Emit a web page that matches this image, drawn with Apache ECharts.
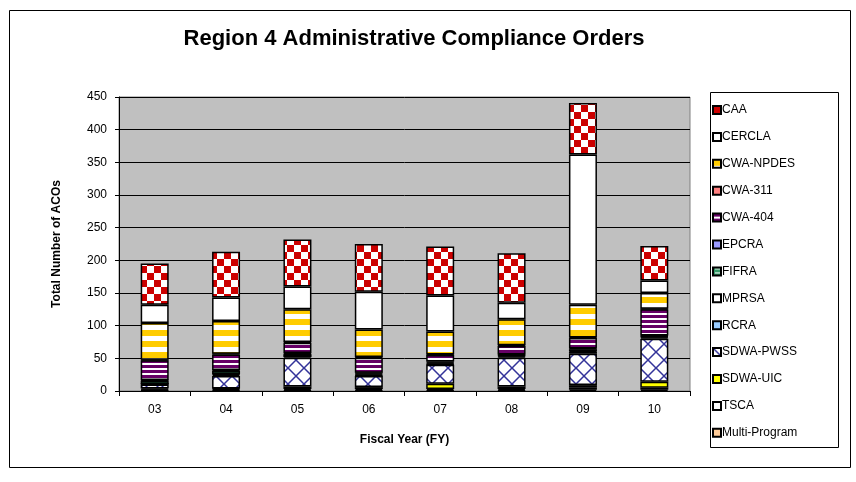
<!DOCTYPE html>
<html>
<head>
<meta charset="utf-8">
<script src="https://cdn.jsdelivr.net/npm/echarts@6/dist/echarts.min.js"></script>
<style>
  html, body { margin: 0; padding: 0; background: #fff; }
  #main { width: 856px; height: 482px; }
</style>
</head>
<body>
<div id="main"></div>
<script>
// fiscal years
const years = ['03', '04', '05', '06', '07', '08', '09', '10'];

// values per program (bottom of stack first)
const multiProgram = [1, 1, 1, 1, 1, 1, 2, 2];
const tsca         = [1, 2, 2, 2, 2, 2, 3, 3];
const sdwaUic      = [2, 1, 4, 3, 8, 4, 4, 9];
const sdwaPwss     = [6, 19, 44, 17, 29, 44, 48, 66];
const rcra         = [1, 2, 2, 1, 1, 2, 3, 2];
const mprsa        = [0, 1, 0, 1, 1, 1, 1, 1];
const fifra        = [5, 5, 4, 2, 2, 1, 3, 1];
const epcra        = [1, 1, 1, 1, 1, 1, 1, 1];
const cwa404       = [30, 24, 16, 23, 10, 13, 16, 40];
const cwa311       = [1, 1, 1, 1, 1, 1, 1, 1];
const cwaNpdes     = [56, 50, 50, 42, 35, 40, 50, 24];
const cercla       = [28, 36, 35, 58, 55, 25, 230, 19];
const caa          = [63, 70, 72, 73, 75, 76, 79, 53];

const legendOrder = ['CAA', 'CERCLA', 'CWA-NPDES', 'CWA-311', 'CWA-404', 'EPCRA', 'FIFRA',
    'MPRSA', 'RCRA', 'SDWA-PWSS', 'SDWA-UIC', 'TSCA', 'Multi-Program'];

function pat(w, h, draw) {
    const c = document.createElement('canvas');
    c.width = w; c.height = h;
    draw(c.getContext('2d'));
    return { image: c, repeat: 'repeat' };
}

const checker = pat(14, 14, g => {
    g.fillStyle = '#fff'; g.fillRect(0, 0, 14, 14);
    g.fillStyle = '#CC0000'; g.fillRect(0, 0, 7, 7); g.fillRect(7, 7, 7, 7);
});
const yellowStripes = pat(4, 11, g => {
    g.fillStyle = '#fff'; g.fillRect(0, 0, 4, 11);
    g.fillStyle = '#FFCC00'; g.fillRect(0, 0, 4, 6);
});
const purpleStripes = pat(4, 5, g => {
    g.fillStyle = '#fff'; g.fillRect(0, 0, 4, 5);
    g.fillStyle = '#660066'; g.fillRect(0, 0, 4, 3);
});
const greenDash = pat(10, 4, g => {
    g.fillStyle = '#339966'; g.fillRect(0, 0, 10, 4);
    g.fillStyle = '#fff'; g.fillRect(2, 1, 5, 1);
});
const lattice = pat(16, 16, g => {
    g.fillStyle = '#fff'; g.fillRect(0, 0, 16, 16);
    g.strokeStyle = '#333399'; g.lineWidth = 1.5;
    g.beginPath();
    g.moveTo(0, 0); g.lineTo(16, 16);
    g.moveTo(16, 0); g.lineTo(0, 16);
    g.stroke();
});

const stackDefs = [
    ['Multi-Program', multiProgram, '#FFCC99'],
    ['TSCA', tsca, '#FFFFFF'],
    ['SDWA-UIC', sdwaUic, '#FFFF00'],
    ['SDWA-PWSS', sdwaPwss, lattice],
    ['RCRA', rcra, '#99CCFF'],
    ['MPRSA', mprsa, '#FFFFFF'],
    ['FIFRA', fifra, greenDash],
    ['EPCRA', epcra, '#9999FF'],
    ['CWA-404', cwa404, purpleStripes],
    ['CWA-311', cwa311, '#FF8080'],
    ['CWA-NPDES', cwaNpdes, yellowStripes],
    ['CERCLA', cercla, '#FFFFFF'],
    ['CAA', caa, checker]
];

const font = '"Liberation Sans", Arial, sans-serif';

const series = stackDefs.map(([name, data, color]) => ({
    name: name,
    type: 'bar',
    stack: 'total',
    data: data,
    barWidth: 28,
    itemStyle: { color: color, borderColor: '#000', borderWidth: 1.5 },
    emphasis: { disabled: true }
}));

var myChart = echarts.init(document.getElementById('main'), null, { renderer: 'canvas' });

const option = {
    animation: false,
    backgroundColor: '#fff',
    textStyle: { fontFamily: font },
    title: {
        text: 'Region 4 Administrative Compliance Orders',
        left: 409,
        top: 23,
        textAlign: 'center',
        textStyle: { fontSize: 22, fontWeight: 'bold', color: '#000', fontFamily: font }
    },
    graphic: [
        { type: 'rect', left: 7, top: 8, z: -1, shape: { width: 841, height: 457 },
          style: { fill: 'none', stroke: '#000', lineWidth: 1 } },
        { type: 'rect', left: 710, top: 92, z: -1, shape: { width: 128, height: 355 },
          style: { fill: '#fff', stroke: '#000', lineWidth: 1 } }
    ],
    legend: {
        data: legendOrder,
        orient: 'vertical',
        left: 712,
        top: 103,
        itemWidth: 8,
        itemHeight: 8,
        itemGap: 12.9,
        padding: 0,
        icon: 'rect',
        selectedMode: false,
        textStyle: { fontSize: 12, color: '#000', fontFamily: font, padding: [0, 0, 0, -4], lineHeight: 14 }
    },
    grid: {
        left: 119, right: 166, top: 97, bottom: 91,
        show: true,
        backgroundColor: '#C0C0C0',
        borderColor: '#808080',
        borderWidth: 1
    },
    xAxis: {
        type: 'category',
        data: years,
        name: 'Fiscal Year (FY)',
        nameLocation: 'middle',
        nameGap: 43,
        nameTextStyle: { fontSize: 12, fontWeight: 'bold', color: '#000', fontFamily: font },
        axisLine: { lineStyle: { color: '#000', width: 1 } },
        axisTick: { show: true, length: 5, alignWithLabel: false, lineStyle: { color: '#000' } },
        axisLabel: { fontSize: 12, color: '#000', margin: 13, fontFamily: font }
    },
    yAxis: {
        type: 'value',
        min: 0,
        max: 450,
        interval: 50,
        name: 'Total Number of ACOs',
        nameLocation: 'middle',
        nameGap: 56,
        nameTextStyle: { fontSize: 12, fontWeight: 'bold', color: '#000', fontFamily: font },
        axisLine: { show: true, lineStyle: { color: '#000', width: 1 } },
        axisTick: { show: true, length: 4, lineStyle: { color: '#000' } },
        axisLabel: { fontSize: 12, color: '#000', margin: 12, fontFamily: font },
        splitLine: { show: true, lineStyle: { color: '#000', width: 1 } }
    },
    series: series
};
myChart.setOption(option);
</script>
</body>
</html>
